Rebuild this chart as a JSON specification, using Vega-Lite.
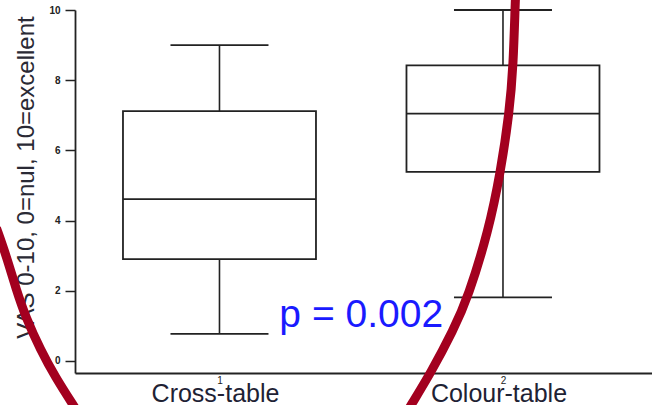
{
  "$schema": "https://vega.github.io/schema/vega-lite/v6.json",
  "width": 577,
  "height": 363,
  "autosize": "none",
  "padding": {"left": 75, "top": 10, "right": 0, "bottom": 32},
  "background": "white",
  "config": {
    "view": {"stroke": null},
    "font": "Liberation Sans",
    "axis": {"grid": false, "domainColor": "#222222", "domainWidth": 1.8, "tickColor": "#222222", "tickWidth": 1.5, "labelColor": "#222222", "titleColor": "#222222", "labelFont": "Liberation Sans", "titleFont": "Liberation Sans"}
  },
  "datasets": {
    "boxes": [
      {"group": 1, "label": "Cross-table", "min": 0.77, "q1": 2.9, "median": 4.61, "q3": 7.12, "max": 9.0},
      {"group": 2, "label": "Colour-table", "min": 1.81, "q1": 5.39, "median": 7.05, "q3": 8.42, "max": 10.0}
    ],
    "arc": [
      {"side": "left", "x": 0.2132, "y": 3.79},
      {"side": "left", "x": 0.2478, "y": 3.0},
      {"side": "left", "x": 0.2825, "y": 2.05},
      {"side": "left", "x": 0.3172, "y": 1.23},
      {"side": "left", "x": 0.3691, "y": 0.31},
      {"side": "left", "x": 0.4211, "y": -0.46},
      {"side": "left", "x": 0.4835, "y": -1.25},
      {"side": "left", "x": 0.5251, "y": -1.77},
      {"side": "right", "x": 1.6343, "y": -1.82},
      {"side": "right", "x": 1.6759, "y": -1.25},
      {"side": "right", "x": 1.7452, "y": -0.34},
      {"side": "right", "x": 1.825, "y": 0.88},
      {"side": "right", "x": 1.877, "y": 1.82},
      {"side": "right", "x": 1.9497, "y": 3.73},
      {"side": "right", "x": 1.9913, "y": 5.38},
      {"side": "right", "x": 2.0225, "y": 7.07},
      {"side": "right", "x": 2.0364, "y": 8.43},
      {"side": "right", "x": 2.0433, "y": 10.28},
      {"side": "right", "x": 2.0468, "y": 10.85}
    ]
  },
  "layer": [
    {
      "data": {"name": "boxes"},
      "mark": {"type": "rule", "stroke": "#222222", "strokeWidth": 1.6},
      "encoding": {
        "x": {"field": "group", "type": "quantitative", "title": null,
              "scale": {"domain": [0.508, 2.508], "nice": false, "zero": false},
              "axis": {"values": [1, 2], "ticks": false, "labelFontSize": 10, "labelPadding": 2, "format": "d"}},
        "y": {"field": "min", "type": "quantitative", "title": "VAS 0-10, 0=nul, 10=excellent",
              "scale": {"domain": [-0.342, 10], "nice": false, "zero": false},
              "axis": {"values": [0, 2, 4, 6, 8, 10], "tickSize": 10, "labelPadding": 5, "labelFontSize": 10, "labelFontWeight": "bold",
                       "titleFontSize": 24, "titleFontWeight": "normal", "titleX": -42, "titleY": 167, "titleBaseline": "alphabetic", "titleColor": "#2a2a35"}},
        "y2": {"field": "q1"}
      }
    },
    {
      "data": {"name": "boxes"},
      "mark": {"type": "rule", "stroke": "#222222", "strokeWidth": 1.6},
      "encoding": {
        "x": {"field": "group", "type": "quantitative", "title": null, "scale": {"domain": [0.508, 2.508], "nice": false, "zero": false}},
        "y": {"field": "q3", "type": "quantitative", "title": "VAS 0-10, 0=nul, 10=excellent", "scale": {"domain": [-0.342, 10], "nice": false, "zero": false}},
        "y2": {"field": "max"}
      }
    },
    {
      "data": {"name": "boxes"},
      "mark": {"type": "tick", "orient": "horizontal", "size": 98, "thickness": 1.8, "color": "#222222", "opacity": 1},
      "encoding": {
        "x": {"field": "group", "type": "quantitative", "title": null, "scale": {"domain": [0.508, 2.508], "nice": false, "zero": false}},
        "y": {"field": "min", "type": "quantitative", "title": "VAS 0-10, 0=nul, 10=excellent", "scale": {"domain": [-0.342, 10], "nice": false, "zero": false}}
      }
    },
    {
      "data": {"name": "boxes"},
      "mark": {"type": "tick", "orient": "horizontal", "size": 98, "thickness": 1.8, "color": "#222222", "opacity": 1},
      "encoding": {
        "x": {"field": "group", "type": "quantitative", "title": null, "scale": {"domain": [0.508, 2.508], "nice": false, "zero": false}},
        "y": {"field": "max", "type": "quantitative", "title": "VAS 0-10, 0=nul, 10=excellent", "scale": {"domain": [-0.342, 10], "nice": false, "zero": false}}
      }
    },
    {
      "data": {"name": "boxes"},
      "mark": {"type": "bar", "orient": "vertical", "size": 193, "fill": "white", "stroke": "#222222", "strokeWidth": 1.8},
      "encoding": {
        "x": {"field": "group", "type": "quantitative", "title": null, "scale": {"domain": [0.508, 2.508], "nice": false, "zero": false}},
        "y": {"field": "q1", "type": "quantitative", "title": "VAS 0-10, 0=nul, 10=excellent", "scale": {"domain": [-0.342, 10], "nice": false, "zero": false}},
        "y2": {"field": "q3"}
      }
    },
    {
      "data": {"name": "boxes"},
      "mark": {"type": "tick", "orient": "horizontal", "size": 193, "thickness": 1.8, "color": "#222222", "opacity": 1},
      "encoding": {
        "x": {"field": "group", "type": "quantitative", "title": null, "scale": {"domain": [0.508, 2.508], "nice": false, "zero": false}},
        "y": {"field": "median", "type": "quantitative", "title": "VAS 0-10, 0=nul, 10=excellent", "scale": {"domain": [-0.342, 10], "nice": false, "zero": false}}
      }
    },
    {
      "data": {"values": [{"text": "p = 0.002"}]},
      "mark": {"type": "text", "fontSize": 39, "color": "#1a1aff", "align": "center", "baseline": "alphabetic", "font": "Liberation Sans"},
      "encoding": {
        "x": {"datum": 1.5, "type": "quantitative", "scale": {"domain": [0.508, 2.508], "nice": false, "zero": false}},
        "y": {"datum": 0.97, "type": "quantitative", "scale": {"domain": [-0.342, 10], "nice": false, "zero": false}},
        "text": {"field": "text"}
      }
    },
    {
      "data": {"name": "arc"},
      "mark": {"type": "line", "stroke": "#a3001f", "strokeWidth": 9, "interpolate": "basis", "clip": false},
      "encoding": {
        "x": {"field": "x", "type": "quantitative", "title": null, "scale": {"domain": [0.508, 2.508], "nice": false, "zero": false}},
        "y": {"field": "y", "type": "quantitative", "title": "VAS 0-10, 0=nul, 10=excellent", "scale": {"domain": [-0.342, 10], "nice": false, "zero": false}},
        "detail": {"field": "side"}
      }
    },
    {
      "data": {"name": "boxes"},
      "mark": {"type": "text", "fontSize": 25, "color": "#1e2234", "align": "center", "baseline": "alphabetic", "dx": -4, "font": "Liberation Sans", "clip": false},
      "encoding": {
        "x": {"field": "group", "type": "quantitative", "title": null, "scale": {"domain": [0.508, 2.508], "nice": false, "zero": false}},
        "y": {"datum": -1.16, "type": "quantitative", "scale": {"domain": [-0.342, 10], "nice": false, "zero": false}},
        "text": {"field": "label"}
      }
    }
  ]
}
